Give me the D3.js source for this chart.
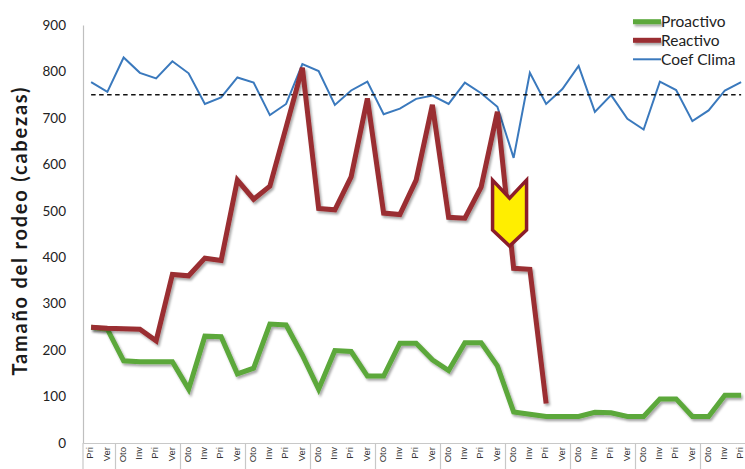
<!DOCTYPE html>
<html>
<head>
<meta charset="utf-8">
<script src="https://cdn.jsdelivr.net/npm/d3@7/dist/d3.min.js"></script>
<style>
  html, body { margin: 0; padding: 0; background: #fff; }
  svg { display: block; font-family: Lato, "Open Sans", sans-serif; }
</style>
</head>
<body>
<svg id="chart" width="745" height="469"></svg>
<script>
// ---- data ----
const seasons = ["Pri","Ver","Oto","Inv","Pri","Ver","Oto","Inv","Pri","Ver",
                 "Oto","Inv","Pri","Ver","Oto","Inv","Pri","Ver","Oto","Inv",
                 "Pri","Ver","Oto","Inv","Pri","Ver","Oto","Inv","Pri","Ver",
                 "Oto","Inv","Pri","Ver","Oto","Inv","Pri","Ver","Oto","Inv","Pri"];
const proactivo = [249,245,177,175,175,175,116,230,229,149,
                   161,256,254,189,116,199,197,144,144,215,
                   215,179,156,216,216,166,67,62,57,57,
                   57,66,65,57,57,95,95,57,57,103,103];
const reactivo = [249,247,246,245,220,363,360,398,393,566,
                  525,553,680,808,505,502,573,742,495,492,
                  566,728,486,484,551,713,376,374,85];
const coefClima = [777,756,830,797,785,822,796,730,744,787,
                   776,706,730,816,801,728,759,778,708,720,
                   741,748,730,776,753,724,614,797,730,762,
                   812,713,749,698,675,778,760,693,716,759,777];
const referencia = 750;
const yTicks = [0,100,200,300,400,500,600,700,800,900];
const seriesNames = ["Proactivo","Reactivo","Coef Clima"];
const yTitle = "Tamaño del rodeo (cabezas)";
// arrow marker anchor (category position, top / bottom values)
const arrowAt = {pos: 25.75, top: 566, bottom: 424};

(function () {
// ---- layout ----
const svg = d3.select("#chart");
const mLeft = 83, mTop = 25, mBottom = 443;
const band = 16.25;
const idx = seasons.map((d,i) => i);
const x = d3.scaleBand().domain(idx).range([mLeft, mLeft + band * seasons.length]).padding(0);
const xc = i => x(i) + x.bandwidth() / 2;
const y = d3.scaleLinear().domain([0, 900]).range([mBottom, mTop]);

const defs = svg.append("defs");
const f = defs.append("filter").attr("id","shadow")
  .attr("filterUnits","userSpaceOnUse")
  .attr("x",0).attr("y",0).attr("width",745).attr("height",469);
f.append("feDropShadow").attr("dx",1.6).attr("dy",2.2).attr("stdDeviation",1.3)
  .attr("flood-color","#000").attr("flood-opacity",0.35);

// y axis
const yAxis = svg.append("g").attr("transform", `translate(${mLeft},0)`)
  .call(d3.axisLeft(y).tickValues(yTicks).tickSize(0).tickPadding(17).tickSizeOuter(0));
yAxis.select(".domain").attr("stroke","#bfbfbf").attr("stroke-width",1.2);
yAxis.selectAll("text").attr("font-size",13.5).attr("fill","#222").attr("font-family","Lato, sans-serif");

// x axis
const xAxis = svg.append("g").attr("transform", `translate(0,${mBottom})`)
  .call(d3.axisBottom(x).tickSize(0).tickSizeOuter(0).tickFormat(i => seasons[i]));
xAxis.select(".domain").attr("stroke","#c8c8c8").attr("stroke-width",1.2);
xAxis.selectAll("text")
  .attr("font-size",9.5).attr("fill","#333")
  .attr("transform","rotate(-90)")
  .attr("text-anchor","end")
  .attr("dy","0.35em")
  .attr("x",-4).attr("y",-1);

// group separators (before each "Oto" and at start)
const seps = idx.filter(i => i === 0 || seasons[i] === "Oto");
svg.append("g").selectAll("line").data(seps).join("line")
  .attr("x1", i => x(i)).attr("x2", i => x(i))
  .attr("y1", mBottom).attr("y2", 469)
  .attr("stroke","#c8c8c8").attr("stroke-width",1.2);

// Coef Clima line
const line = d3.line().defined(d => d != null).x((d,i) => xc(i)).y(d => y(d));
svg.append("path").datum(coefClima)
  .attr("d", line).attr("fill","none")
  .attr("stroke","#3a79bd").attr("stroke-width",2).attr("stroke-linejoin","miter");

// reference dashed line
svg.append("line")
  .attr("x1", xc(0)).attr("x2", xc(seasons.length - 1))
  .attr("y1", y(referencia)).attr("y2", y(referencia))
  .attr("stroke","#111").attr("stroke-width",1.5).attr("stroke-dasharray","4.5,3.5");

// Proactivo
svg.append("path").datum(proactivo)
  .attr("d", line).attr("fill","none")
  .attr("stroke","#5ba83a").attr("stroke-width",5).attr("stroke-linejoin","miter")
  .attr("filter","url(#shadow)");

// Reactivo
svg.append("path").datum(reactivo)
  .attr("d", line).attr("fill","none")
  .attr("stroke","#9a2e31").attr("stroke-width",5).attr("stroke-linejoin","miter")
  .attr("filter","url(#shadow)");

// arrow marker
const ax = x(Math.floor(arrowAt.pos)) + band * (arrowAt.pos % 1) + band / 2;
const aTop = y(arrowAt.top), aBot = y(arrowAt.bottom);
const hw = 17, notch = 18, tipH = 16;
const arrowPath = `M${ax-hw},${aTop} L${ax},${aTop+notch} L${ax+hw},${aTop} L${ax+hw},${aBot-tipH} L${ax},${aBot} L${ax-hw},${aBot-tipH} Z`;
svg.append("path").attr("d", arrowPath)
  .attr("fill","#ffee00").attr("stroke","#8c1d2a").attr("stroke-width",3.5)
  .attr("stroke-linejoin","miter");

// y title
svg.append("text")
  .attr("transform", `translate(27,${(88+375)/2}) rotate(-90)`)
  .attr("text-anchor","middle")
  .attr("font-size",20).attr("font-weight","bold").attr("fill","#1a1a1a")
  .attr("textLength",288).attr("lengthAdjust","spacing")
  .text(yTitle);

// legend
const legColors = ["#5ba83a","#9a2e31","#3a79bd"];
const legWidths = [5,5,2];
const legY = [21.7, 40.3, 59.3];
const leg = svg.append("g");
seriesNames.forEach((n,i) => {
  leg.append("line").attr("x1",633).attr("x2",661).attr("y1",legY[i]).attr("y2",legY[i])
    .attr("stroke",legColors[i]).attr("stroke-width",legWidths[i])
    .attr("filter", i < 2 ? "url(#shadow)" : null);
  leg.append("text").attr("x",661).attr("y",legY[i]).attr("dy","0.36em")
    .attr("font-size",15.5).attr("fill","#222").text(n);
});
})();
</script>
</body>
</html>
